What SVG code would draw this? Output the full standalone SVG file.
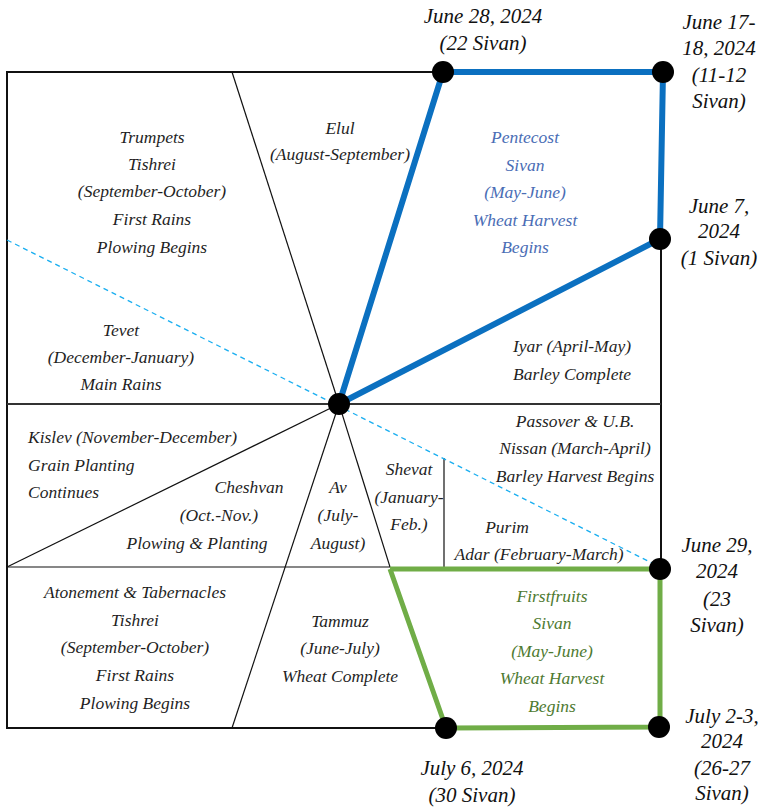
<svg xmlns="http://www.w3.org/2000/svg" width="763" height="810" viewBox="0 0 763 810">
<style>
text{font-family:"Liberation Serif","Times New Roman",serif;font-style:italic;font-size:17.5px;fill:#1f1f1f;text-anchor:middle}
.d{font-size:21px;fill:#111}
.l{text-anchor:start}
.b{fill:#4a6db5}
.g{fill:#4e7a31}
.frame{stroke:#111;stroke-width:2;fill:none}
.thin{stroke:#111;stroke-width:1.2;fill:none}
.mid{stroke:#333;stroke-width:2;fill:none}
.dash{stroke:#19aef0;stroke-width:1.3;stroke-dasharray:5,4;fill:none}
.blue{stroke:#0b70c0;stroke-width:6;fill:none;stroke-linejoin:round}
.green{stroke:#70ad47;stroke-width:5;fill:none;stroke-linejoin:round}
.node{fill:#000}
</style>
<rect width="763" height="810" fill="#fff"/>
<g id="connectors">
<polyline class="frame" points="443,72 7,72 7,728 446,728"/>
<line class="frame" x1="661" y1="239" x2="661" y2="568"/>
<line class="mid" x1="7" y1="404" x2="661" y2="404"/>
<line class="thin" x1="7" y1="567" x2="390" y2="567"/>
<line class="thin" x1="339" y1="404" x2="232" y2="72"/>
<line class="thin" x1="339" y1="404" x2="232" y2="728"/>
<line class="thin" x1="339" y1="404" x2="7" y2="567"/>
<line class="thin" x1="339" y1="404" x2="390" y2="567"/>
<line class="thin" x1="444" y1="458" x2="444" y2="567"/>
<line class="dash" x1="7" y1="240" x2="652" y2="563"/>
<polyline class="blue" points="339,404 443,72 663,72 660,239 339,404"/>
<polyline class="green" points="390,569 660,569 660,727 446,728 390,569"/>
</g>
<g id="node-center"><circle class="node" cx="339" cy="404" r="11"/></g>
<g id="node-june28"><circle class="node" cx="443" cy="72" r="11"/>
<text class="d" x="483" y="23">June 28, 2024</text><text class="d" x="483" y="50">(22 Sivan)</text></g>
<g id="node-june17"><circle class="node" cx="663" cy="72" r="11"/>
<text class="d" x="719" y="29">June 17-</text><text class="d" x="719" y="55">18, 2024</text><text class="d" x="719" y="82">(11-12</text><text class="d" x="719" y="108">Sivan)</text></g>
<g id="node-june7"><circle class="node" cx="660" cy="239" r="11"/>
<text class="d" x="719" y="213">June 7,</text><text class="d" x="719" y="238">2024</text><text class="d" x="719" y="265">(1 Sivan)</text></g>
<g id="node-june29"><circle class="node" cx="660" cy="569" r="11"/>
<text class="d" x="717" y="552">June 29,</text><text class="d" x="717" y="578">2024</text><text class="d" x="717" y="606">(23</text><text class="d" x="717" y="632">Sivan)</text></g>
<g id="node-july2"><circle class="node" cx="659" cy="727" r="11"/>
<text class="d" x="722" y="723">July 2-3,</text><text class="d" x="722" y="748">2024</text><text class="d" x="722" y="775">(26-27</text><text class="d" x="722" y="800">Sivan)</text></g>
<g id="node-july6"><circle class="node" cx="446" cy="728" r="11"/>
<text class="d" x="472" y="775">July 6, 2024</text><text class="d" x="472" y="802">(30 Sivan)</text></g>
<g id="region-trumpets">
<text x="152" y="143">Trumpets</text><text x="152" y="170">Tishrei</text><text x="152" y="197">(September-October)</text><text x="152" y="225">First Rains</text><text x="152" y="253">Plowing Begins</text></g>
<g id="region-elul"><text x="340" y="134">Elul</text><text x="340" y="160">(August-September)</text></g>
<g id="region-pentecost">
<text class="b" x="525" y="143">Pentecost</text><text class="b" x="525" y="171">Sivan</text><text class="b" x="525" y="198">(May-June)</text><text class="b" x="525" y="226">Wheat Harvest</text><text class="b" x="525" y="253">Begins</text></g>
<g id="region-tevet"><text x="121" y="336">Tevet</text><text x="121" y="363">(December-January)</text><text x="121" y="390">Main Rains</text></g>
<g id="region-iyar"><text x="572" y="352">Iyar (April-May)</text><text x="572" y="380">Barley Complete</text></g>
<g id="region-passover"><text x="575" y="427">Passover &amp; U.B.</text><text x="575" y="454">Nissan (March-April)</text><text x="575" y="482">Barley Harvest Begins</text></g>
<g id="region-adar"><text x="507" y="533">Purim</text><text x="539" y="560">Adar (February-March)</text></g>
<g id="region-shevat"><text x="409" y="475">Shevat</text><text x="409" y="503">(January-</text><text x="409" y="530">Feb.)</text></g>
<g id="region-kislev"><text class="l" x="28" y="443">Kislev (November-December)</text><text class="l" x="28" y="471">Grain Planting</text><text class="l" x="28" y="498">Continues</text></g>
<g id="region-cheshvan"><text x="249" y="493">Cheshvan</text><text x="219" y="521">(Oct.-Nov.)</text><text x="197" y="549">Plowing &amp; Planting</text></g>
<g id="region-av"><text x="338" y="493">Av</text><text x="338" y="521">(July-</text><text x="338" y="549">August)</text></g>
<g id="region-atonement"><text x="135" y="598">Atonement &amp; Tabernacles</text><text x="135" y="626">Tishrei</text><text x="135" y="653">(September-October)</text><text x="135" y="681">First Rains</text><text x="135" y="709">Plowing Begins</text></g>
<g id="region-tammuz"><text x="340" y="627">Tammuz</text><text x="340" y="654">(June-July)</text><text x="340" y="682">Wheat Complete</text></g>
<g id="region-firstfruits">
<text class="g" x="552" y="602">Firstfruits</text><text class="g" x="552" y="629">Sivan</text><text class="g" x="552" y="657">(May-June)</text><text class="g" x="552" y="684">Wheat Harvest</text><text class="g" x="552" y="712">Begins</text></g>
</svg>
